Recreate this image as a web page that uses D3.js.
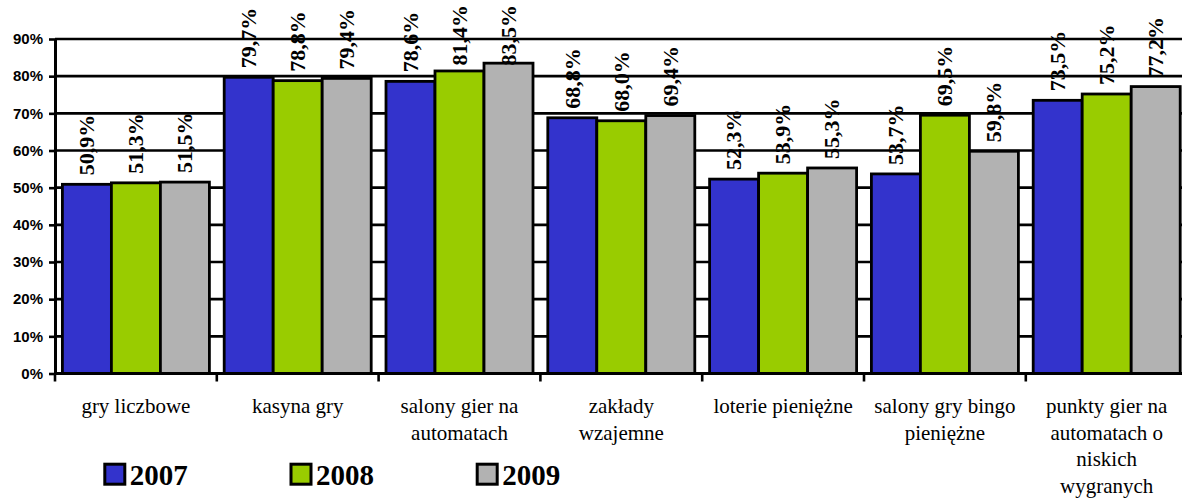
<!DOCTYPE html>
<html>
<head>
<meta charset="utf-8">
<script src="https://cdn.jsdelivr.net/npm/d3@7"></script>
<style>
  html, body { margin: 0; padding: 0; background: #fff; }
  svg { display: block; }
  .serif { font-family: "Liberation Serif", Tinos, "Times New Roman", Times, "Nimbus Roman", "DejaVu Serif", serif; }
  .sans { font-family: "Liberation Sans", Arimo, Arial, Helvetica, sans-serif; }
</style>
</head>
<body>
<div id="chart"></div>
<script>
// chart data
const categories = [
    "gry liczbowe",
    "kasyna gry",
    "salony gier na\nautomatach",
    "zakłady\nwzajemne",
    "loterie pieniężne",
    "salony gry bingo\npieniężne",
    "punkty gier na\nautomatach o\nniskich\nwygranych"
];
const years = ["2007", "2008", "2009"];
const values2007 = [50.9, 79.7, 78.6, 68.8, 52.3, 53.7, 73.5];
const values2008 = [51.3, 78.8, 81.4, 68.0, 53.9, 69.5, 75.2];
const values2009 = [51.5, 79.4, 83.5, 69.4, 55.3, 59.8, 77.2];
const yTicks = [0, 0.1, 0.2, 0.3, 0.4, 0.5, 0.6, 0.7, 0.8, 0.9];

const seriesValues = [values2007, values2008, values2009];
const colors = ["#3333CC", "#99CC00", "#B2B2B2"];

const width = 1182, height = 500;
const svg = d3.select('#chart').append('svg')
    .attr('width', width)
    .attr('height', height);

// scales
const x = d3.scaleBand()
    .domain(categories)
    .range([55, 55 + 7 * 161.8])
    .padding(0);

const x1 = d3.scaleBand()
    .domain(years)
    .range([0, x.bandwidth()])
    .paddingInner(0)
    .paddingOuter(0.151);

const y = d3.scaleLinear()
    .domain([0, 0.9])
    .range([373.5, 39]);

// gridlines
svg.append('g')
    .selectAll('line')
    .data(yTicks.slice(1))
    .enter().append('line')
    .attr('x1', x.range()[0])
    .attr('x2', x.range()[1])
    .attr('y1', d => y(d))
    .attr('y2', d => y(d))
    .style('stroke', '#000')
    .style('stroke-width', 2.6);

// bars
const rows = [];
categories.forEach((c, i) => {
    years.forEach((yr, j) => {
        rows.push({cat: c, year: yr, value: seriesValues[j][i], color: colors[j]});
    });
});

svg.append('g')
    .selectAll('rect')
    .data(rows)
    .enter().append('rect')
    .attr('x', d => x(d.cat) + x1(d.year))
    .attr('y', d => y(d.value / 100))
    .attr('width', x1.bandwidth())
    .attr('height', d => y(0) - y(d.value / 100))
    .style('fill', d => d.color)
    .style('stroke', '#000')
    .style('stroke-width', 2.8);

// value labels, rotated; kept inside the chart area like excel does
const fmt = d3.format(".1f");
const valueLabels = svg.append('g')
    .selectAll('text')
    .data(rows)
    .enter().append('text')
    .attr('class', 'serif')
    .attr('dy', '0.33em')
    .text(d => fmt(d.value).replace('.', ',') + '%')
    .style('font-weight', 'bold')
    .style('font-size', '22px')
    .style('fill', '#000');

valueLabels.attr('transform', function (d) {
    const len = this.getComputedTextLength();
    const cx = x(d.cat) + x1(d.year) + x1.bandwidth() / 2;
    const cy = Math.max(y(d.value / 100) - 9, 5 + len);
    return "translate(" + cx + "," + cy + ") rotate(-90)";
});

// y axis
const yAxis = svg.append('g')
    .attr('transform', 'translate(' + x.range()[0] + ',0)')
    .call(d3.axisLeft(y)
        .tickValues(yTicks)
        .tickFormat(d3.format('.0%'))
        .tickSize(6)
        .tickSizeOuter(0)
        .tickPadding(6));
yAxis.attr('font-family', null);
yAxis.select('.domain').style('stroke-width', 3);
yAxis.selectAll('.tick line').style('stroke-width', 2.6);
yAxis.selectAll('.tick text')
    .attr('class', 'sans')
    .style('font-weight', 'bold')
    .style('font-size', '15px')
    .style('fill', '#000');

// x axis line and boundary ticks
const xAxis = svg.append('g');
xAxis.append('line')
    .attr('x1', x.range()[0])
    .attr('x2', x.range()[1])
    .attr('y1', y(0))
    .attr('y2', y(0))
    .style('stroke', '#000')
    .style('stroke-width', 3);

const bounds = categories.map(c => x(c)).concat([x.range()[1]]);
xAxis.selectAll('.xtick')
    .data(bounds)
    .enter().append('line')
    .attr('class', 'xtick')
    .attr('x1', d => d)
    .attr('x2', d => d)
    .attr('y1', y(0))
    .attr('y2', y(0) + 8)
    .style('stroke', '#000')
    .style('stroke-width', 2.6);

// category labels
const catLabels = xAxis.selectAll('.cat')
    .data(categories)
    .enter().append('text')
    .attr('class', 'cat serif')
    .attr('x', d => x(d) + x.bandwidth() / 2)
    .attr('y', 413)
    .attr('text-anchor', 'middle')
    .style('font-size', '21px')
    .style('fill', '#000');

catLabels.each(function (d) {
    const el = d3.select(this);
    d.split('\n').forEach((line, i) => {
        el.append('tspan')
            .attr('x', x(d) + x.bandwidth() / 2)
            .attr('dy', i === 0 ? 0 : 26.5)
            .text(line);
    });
});

// legend
const legend = svg.append('g')
    .selectAll('g')
    .data(years)
    .enter().append('g')
    .attr('transform', (d, i) => 'translate(' + (104.8 + i * 186.2) + ',464.2)');

legend.append('rect')
    .attr('width', 20)
    .attr('height', 20)
    .style('fill', (d, i) => colors[i])
    .style('stroke', '#000')
    .style('stroke-width', 3);

legend.append('text')
    .attr('class', 'serif')
    .attr('x', 25)
    .attr('y', 21)
    .text(d => d)
    .style('font-weight', 'bold')
    .style('font-size', '29px')
    .style('fill', '#000');
</script>
</body>
</html>
